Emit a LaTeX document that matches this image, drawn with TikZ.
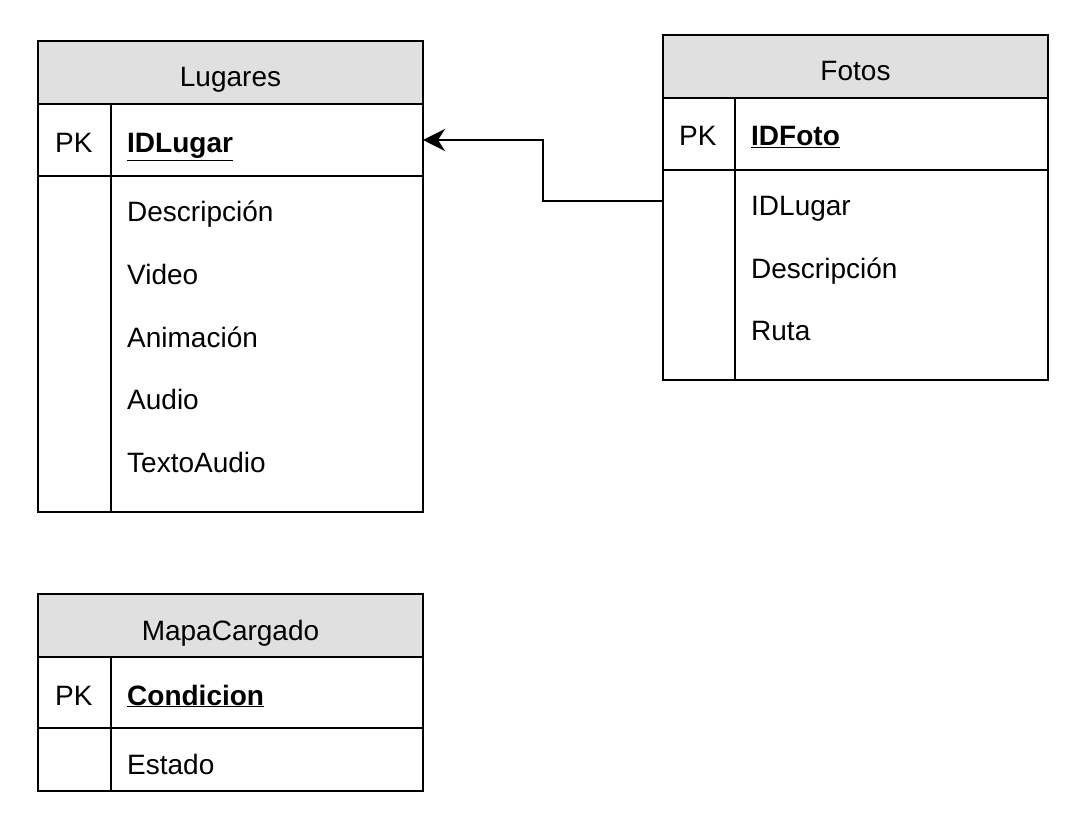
\documentclass[tikz,border=0pt]{standalone}
\usepackage{fontspec}
\setmainfont{Liberation Sans}
\usetikzlibrary{arrows.meta}
\definecolor{headgray}{HTML}{E0E0E0}

\begin{document}
\begin{tikzpicture}[x=1pt,y=-1pt,
  every node/.style={font=\fontsize{28}{34}\selectfont},
  tabhead/.style={draw,line width=2.2pt,fill=headgray,minimum width=385pt,minimum height=63pt,anchor=north west,inner sep=0pt,outer sep=0pt,text height=38pt,text depth=9pt},
  tabpart/.style={draw,line width=2.2pt,minimum width=385pt,anchor=north west,inner sep=0pt,outer sep=0pt},
  field/.style={anchor=base west,inner sep=0pt},
  keyname/.style={anchor=base west,inner sep=0pt,font=\fontsize{28}{34}\selectfont\bfseries},
  fklink/.style={-{Stealth[length=22pt,width=22pt,inset=7pt]},line width=2.2pt}]

 \useasboundingbox (0,0) rectangle (1086,826);

 % Lugares
 \node[tabhead] (lugH) at (38,41) {Lugares};
 \node[tabpart,minimum height=72pt] (lugK) at (lugH.south west) {};
 \node[tabpart,minimum height=336pt] (lugB) at (lugK.south west) {};
 \draw[line width=2.2pt] (lugK.north west) ++(73,0) -- ++(0,408);
 \node[field] (lugPK) at (55,153) {PK};
 \node[keyname] (lugId) at (127,153) {\underline{IDLugar}};
 \foreach \t/\y [count=\i] in {Descripción/211,Video/273.5,Animación/336,Audio/398.5,TextoAudio/461}
 {
   \node[field] (lugF\i) at (127,\y+11) {\t};
 }

 % Fotos
 \node[tabhead] (fotH) at (663,35) {Fotos};
 \node[tabpart,minimum height=72pt] (fotK) at (fotH.south west) {};
 \node[tabpart,minimum height=210pt] (fotB) at (fotK.south west) {};
 \draw[line width=2.2pt] (fotK.north west) ++(72,0) -- ++(0,282);
 \node[field] (fotPK) at (679,146) {PK};
 \node[keyname] (fotId) at (751,146) {\underline{IDFoto}};
 \foreach \t/\y [count=\i] in {IDLugar/205,Descripción/267,Ruta/329}
 {
   \node[field] (fotF\i) at (751,\y+11) {\t};
 }

 % MapaCargado
 \node[tabhead] (mapH) at (38,594) {MapaCargado};
 \node[tabpart,minimum height=71pt] (mapK) at (mapH.south west) {};
 \node[tabpart,minimum height=63pt] (mapB) at (mapK.south west) {};
 \draw[line width=2.2pt] (mapK.north west) ++(73,0) -- ++(0,134);
 \node[field] (mapPK) at (55,705) {PK};
 \node[keyname] (mapId) at (127,705) {\underline{Condicion}};
 \node[field] (mapF1) at (127,774) {Estado};

 % relation
 \coordinate (fk) at (fotB.west |- 0,201);
 \draw[fklink] (fk) -- ++(-120,0) |- (lugK.east);

\end{tikzpicture}
\end{document}
